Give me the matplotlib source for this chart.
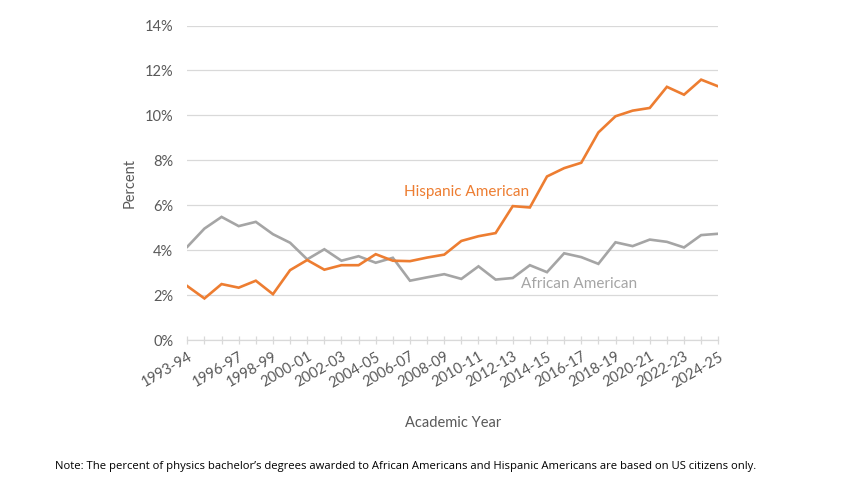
import matplotlib
matplotlib.use('Agg')
import matplotlib.pyplot as plt
from matplotlib.ticker import PercentFormatter, FixedLocator

# ─── data (percent of physics bachelor's degrees, US citizens) ───
YEARS = [f"{y}-{str(y + 1)[-2:]}" for y in range(1993, 2025)]
HISPANIC = [2.40, 1.85, 2.49, 2.33, 2.64, 2.04, 3.11, 3.56, 3.13, 3.33,
            3.33, 3.82, 3.53, 3.51, 3.67, 3.80, 4.41, 4.62, 4.76, 5.96,
            5.90, 7.28, 7.65, 7.89, 9.24, 9.96, 10.21, 10.33, 11.27, 10.92,
            11.59, 11.29]
AFRICAN = [4.15, 4.96, 5.48, 5.07, 5.26, 4.71, 4.33, 3.59, 4.04, 3.53,
           3.73, 3.44, 3.66, 2.64, 2.79, 2.93, 2.72, 3.28, 2.69, 2.76,
           3.33, 3.02, 3.86, 3.69, 3.39, 4.35, 4.18, 4.47, 4.37, 4.12,
           4.67, 4.73]
LABEL_IDX = [0] + list(range(3, 32, 2))

ORANGE = '#ED7D31'
GRAY = '#A5A5A5'
TXT = '#595959'
GRID = '#D9D9D9'

plt.rcParams['font.family'] = ['Lato', 'DejaVu Sans']

fig = plt.figure(figsize=(8.6, 4.84), dpi=100, facecolor='white')
ax = fig.add_axes([0.2178, 0.2975, 0.6174, 0.6498])

x = list(range(len(YEARS)))
ax.plot(x, AFRICAN, color=GRAY, lw=1.9, solid_joinstyle='miter', zorder=3)
ax.plot(x, HISPANIC, color=ORANGE, lw=1.9, solid_joinstyle='miter', zorder=4)

ax.set_xlim(0, len(YEARS) - 1)
ax.set_ylim(0, 14)
ax.yaxis.set_major_locator(FixedLocator(range(0, 15, 2)))
ax.yaxis.set_major_formatter(PercentFormatter(decimals=0))
ax.grid(axis='y', color=GRID, lw=0.9, zorder=0)
ax.set_axisbelow(True)

ax.xaxis.set_major_locator(FixedLocator(x))
ax.set_xticklabels([YEARS[i] if i in LABEL_IDX else '' for i in x],
                   rotation=30, ha='right', rotation_mode='anchor')

for s in ['top', 'right', 'left']:
    ax.spines[s].set_visible(False)
ax.spines['bottom'].set_color(GRID)
ax.spines['bottom'].set_linewidth(0.9)
ax.tick_params(axis='x', direction='inout', length=6, width=0.9, color=GRID,
               labelsize=10.5, labelcolor=TXT, pad=4)
ax.tick_params(axis='y', length=0, labelsize=10.5, labelcolor=TXT, pad=10)

ax.set_ylabel('Percent', fontsize=10.5, color=TXT, labelpad=6)
ax.set_xlabel('Academic Year', fontsize=10.5, color=TXT, labelpad=19)

ax.text(16.3, 6.6, 'Hispanic American', color=ORANGE, fontsize=11,
        ha='center', va='center')
ax.text(22.9, 2.5, 'African American', color=GRAY, fontsize=11,
        ha='center', va='center')

fig.text(0.064, 0.037, "Note: The percent of physics bachelor\u2019s degrees awarded "
         "to African Americans and Hispanic Americans are based on US citizens only.",
         fontsize=8.15, color='black', ha='left', va='center',
         family=['Open Sans', 'DejaVu Sans'])

fig.savefig('out.png', dpi=100, facecolor='white')
